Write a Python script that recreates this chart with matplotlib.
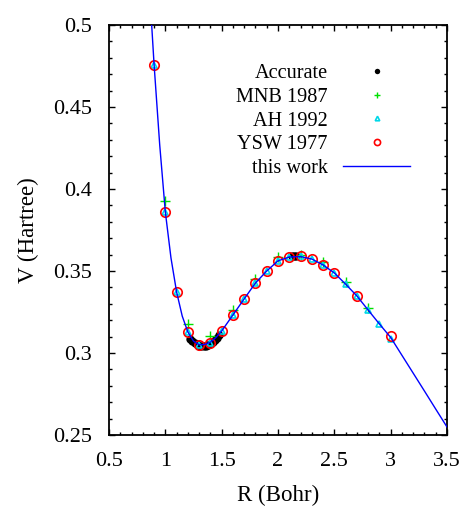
import matplotlib
matplotlib.use("Agg")
import matplotlib.pyplot as plt
from matplotlib.ticker import MultipleLocator, FormatStrFormatter
import numpy as np

# ---- data ----
# Accurate reference points
acc_R = [1.22, 1.24, 1.26, 1.28, 1.30, 1.32, 1.34, 1.36, 1.38, 1.40, 1.42, 1.44, 1.46, 1.48,
         2.12, 2.14, 2.16]
acc_V = [0.3085, 0.3072, 0.3061, 0.3052, 0.3045, 0.3042, 0.3042, 0.3044, 0.3049, 0.3056,
         0.3066, 0.3078, 0.3092, 0.3107, 0.3590, 0.3591, 0.3591]

# MNB 1987
mnb_R = [1.0, 1.2, 1.4, 1.6, 1.8, 2.0, 2.2, 2.4, 2.6, 2.8]
mnb_V = [0.3927, 0.3177, 0.3104, 0.3262, 0.3450, 0.3585, 0.3600, 0.3555, 0.3435, 0.3275]

# AH 1992
ah_R = [0.9, 1.0, 1.1, 1.2, 1.3, 1.4, 1.5, 1.6, 1.7, 1.8, 1.9, 2.0, 2.1, 2.2, 2.3, 2.4,
        2.5, 2.6, 2.7, 2.8, 2.9, 3.0]
ah_V = [0.4756, 0.3860, 0.3372, 0.3128, 0.3049, 0.3061, 0.3134, 0.3232, 0.3330, 0.3427,
        0.3500, 0.3561, 0.3585, 0.3591, 0.3573, 0.3537, 0.3488, 0.3420, 0.3345, 0.3262,
        0.3177, 0.3085]

# YSW 1977
ysw_R = [0.9, 1.0, 1.1, 1.2, 1.3, 1.4, 1.5, 1.6, 1.7, 1.8, 1.9, 2.0, 2.1, 2.2, 2.3, 2.4,
         2.5, 2.7, 3.0]
ysw_V = [0.4756, 0.3860, 0.3372, 0.3128, 0.3049, 0.3061, 0.3134, 0.3232, 0.3330, 0.3427,
         0.3500, 0.3561, 0.3585, 0.3591, 0.3573, 0.3537, 0.3488, 0.3350, 0.3105]

# this work (curve)
tw_R = [0.87, 0.90, 0.95, 1.00, 1.05, 1.10, 1.15, 1.20, 1.25, 1.30, 1.35, 1.40, 1.45, 1.50,
        1.60, 1.70, 1.80, 1.90, 2.00, 2.10, 2.20, 2.30, 2.40, 2.50, 2.60, 2.70, 2.80, 2.90,
        3.00, 3.10, 3.20, 3.30, 3.40, 3.50]
tw_V = [0.5100, 0.4760, 0.4270, 0.3860, 0.3580, 0.3372, 0.3225, 0.3128, 0.3072, 0.3050,
        0.3052, 0.3066, 0.3095, 0.3134, 0.3232, 0.3330, 0.3427, 0.3500, 0.3562, 0.3585,
        0.3588, 0.3573, 0.3537, 0.3488, 0.3420, 0.3348, 0.3262, 0.3177, 0.3095, 0.2986,
        0.2877, 0.2768, 0.2658, 0.2549]

xticks = [0.5, 1, 1.5, 2, 2.5, 3, 3.5]
yticks = [0.25, 0.3, 0.35, 0.4, 0.45, 0.5]

plt.rcParams['font.family'] = ['Liberation Serif', 'DejaVu Serif']

W, H = 467, 509
fig = plt.figure(figsize=(W / 100, H / 100), dpi=100)
ax = fig.add_axes([109 / W, 1 - 435 / H, (447 - 109) / W, (435 - 25) / H])

ax.plot(acc_R, acc_V, 'o', color='black', ms=6, mew=0, label='Accurate', zorder=3)
ax.plot(mnb_R, mnb_V, '+', color='#00e000', ms=7, mew=1.0, label='MNB 1987', zorder=4)
ax.plot(ah_R, ah_V, '^', mfc='none', mec='#00d8e8', ms=5, mew=1.2, label='AH 1992', zorder=5)
ax.plot(ysw_R, ysw_V, 'o', mfc='none', mec='#ff0000', ms=6.8, mew=1.2, label='YSW 1977', zorder=6)
ax.plot(tw_R, tw_V, '-', color='#0000ff', lw=1.0, label='this work', zorder=7)

ax.set_xlim(0.5, 3.5)
ax.set_ylim(0.25, 0.5)
ax.set_xticks(xticks)
ax.set_yticks(yticks)
ax.xaxis.set_minor_locator(MultipleLocator(0.1))
ax.yaxis.set_minor_locator(MultipleLocator(0.01))
ax.xaxis.set_major_formatter(FormatStrFormatter('%g'))
ax.yaxis.set_major_formatter(FormatStrFormatter('%g'))

ax.tick_params(which='both', direction='in', top=True, right=True, width=1.0)
ax.tick_params(which='major', length=4.3, labelsize=16)
ax.tick_params(which='minor', length=2.5)
ax.tick_params(axis='y', which='major', pad=12)
ax.tick_params(axis='x', which='major', pad=12)
for s in ax.spines.values():
    s.set_linewidth(1.3)

ax.set_xlabel('R (Bohr)', fontsize=16.5, labelpad=10)
ax.set_ylabel('V (Hartree)', fontsize=16.5, labelpad=10)

leg = ax.legend(loc='upper right', bbox_to_anchor=(410 / W, 1 - 64 / H),
                bbox_transform=fig.transFigure, frameon=False, markerfirst=False,
                fontsize=14.6, handlelength=3.3, handletextpad=0.75, labelspacing=0.22,
                borderpad=0, borderaxespad=0, markerscale=0.65)

fig.savefig('out.png', dpi=100)
